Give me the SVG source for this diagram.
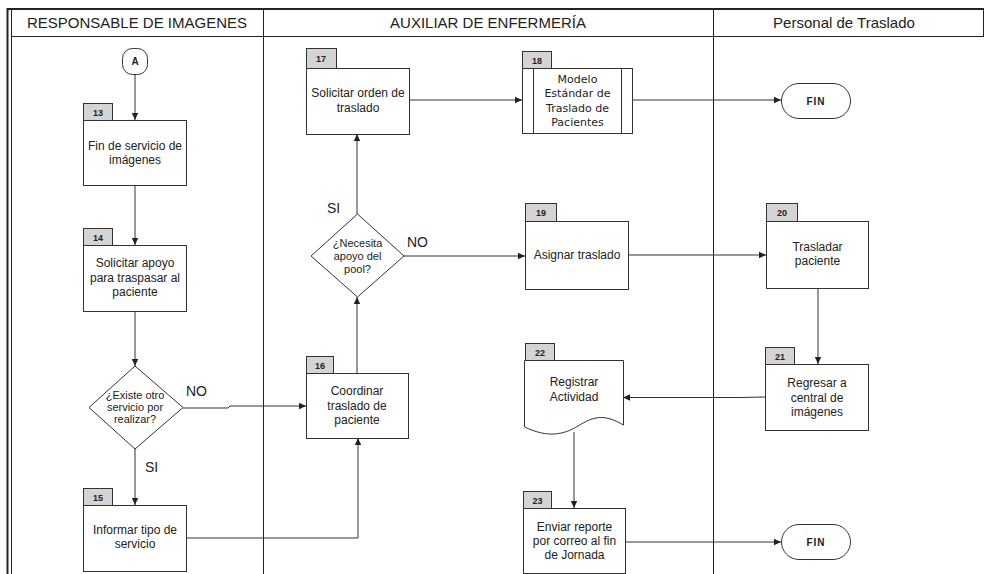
<svg xmlns="http://www.w3.org/2000/svg" width="984" height="574" viewBox="0 0 984 574">
  <style>
    .lane { fill: none; stroke: #222; stroke-width: 1; }
    .hdr { font-family: "Liberation Sans", Arial, sans-serif; font-size: 15px; fill: #222; text-anchor: middle; }
    .box { fill: #fff; stroke: #333; stroke-width: 1; }
    .tab { fill: #d4d4d4; stroke: #333; stroke-width: 1; }
    .num { font-family: "Liberation Sans", Arial, sans-serif; font-size: 9px; font-weight: bold; fill: #222; text-anchor: middle; }
    .lbl { font-family: "Liberation Sans", Arial, sans-serif; font-size: 12px; fill: #222; text-anchor: middle; }
    .dlbl { font-family: "Liberation Sans", Arial, sans-serif; font-size: 11px; fill: #222; text-anchor: middle; }
    .vlbl { font-family: "DejaVu Sans", Verdana, sans-serif; font-size: 11px; fill: #222; text-anchor: middle; }
    .fin { font-family: "Liberation Sans", Arial, sans-serif; font-size: 10px; font-weight: bold; fill: #222; text-anchor: middle; letter-spacing: 1px; }
    .cond { font-family: "Liberation Sans", Arial, sans-serif; font-size: 14px; fill: #222; }
    .edge { fill: none; stroke: #333; stroke-width: 1; marker-end: url(#arrow); }
    .plain { fill: none; stroke: #333; stroke-width: 1; }
  </style>
  <defs>
    <marker id="arrow" markerWidth="8" markerHeight="8" refX="7" refY="4" orient="auto" markerUnits="userSpaceOnUse">
      <path d="M0,0.8 L7,4 L0,7.2 Z" fill="#222"/>
    </marker>
  </defs>

  <rect width="984" height="574" fill="#fff"/>

  <!-- swimlane frame -->
  <g id="lanes">
    <line x1="7" y1="9" x2="984" y2="9" stroke="#222" stroke-width="2"/>
    <line x1="7.5" y1="8" x2="7.5" y2="574" stroke="#222" stroke-width="2"/>
    <line x1="11.5" y1="10" x2="11.5" y2="574" class="lane"/>
    <line x1="11" y1="36.5" x2="984" y2="36.5" class="lane"/>
    <line x1="983.5" y1="9" x2="983.5" y2="36" class="lane"/>
    <line x1="263.5" y1="10" x2="263.5" y2="574" class="lane"/>
    <line x1="713.5" y1="10" x2="713.5" y2="574" class="lane"/>
    <text class="hdr" x="137" y="28">RESPONSABLE DE IMAGENES</text>
    <text class="hdr" x="488" y="28">AUXILIAR DE ENFERMERÍA</text>
    <text class="hdr" x="844" y="28">Personal de Traslado</text>
  </g>

  <!-- connectors -->
  <g id="connectors">
    <line class="edge" x1="135" y1="74" x2="135" y2="120"/>
    <line class="edge" x1="135" y1="185" x2="135" y2="245"/>
    <line class="edge" x1="135" y1="311" x2="135" y2="366"/>
    <polyline class="edge" points="183,408 228,408 230,406 306,406"/>
    <line class="edge" x1="135" y1="449" x2="135" y2="505"/>
    <polyline class="edge" points="186,538 358,538 358,438"/>
    <line class="edge" x1="357" y1="373" x2="357" y2="297"/>
    <line class="edge" x1="357" y1="214" x2="357" y2="134"/>
    <line class="edge" x1="404" y1="256" x2="525" y2="256"/>
    <line class="edge" x1="409" y1="100" x2="522" y2="100"/>
    <line class="edge" x1="632" y1="100" x2="781" y2="100"/>
    <line class="edge" x1="628" y1="255" x2="766" y2="255"/>
    <line class="edge" x1="818" y1="288" x2="818" y2="364"/>
    <polyline class="edge" points="765,397 740,397.5 623,397.5"/>
    <line class="edge" x1="574" y1="432" x2="574" y2="508"/>
    <line class="edge" x1="625" y1="542" x2="781" y2="542"/>
    <text class="cond" x="186" y="396">NO</text>
    <text class="cond" x="145" y="472">SI</text>
    <text class="cond" x="327" y="213">SI</text>
    <text class="cond" x="407" y="247">NO</text>
  </g>

  <!-- start connector A -->
  <g id="nodeA">
    <rect class="box" x="122.5" y="48.5" width="25" height="26" rx="10" ry="10"/>
    <text class="num" x="135" y="65" style="font-size:10px">A</text>
  </g>

  <g id="n13">
    <rect class="tab" x="83.5" y="103.5" width="29" height="17"/>
    <text class="num" x="98" y="115.5">13</text>
    <rect class="box" x="83.5" y="120.5" width="103" height="65"/>
    <text class="lbl" x="135" y="150">Fin de servicio de</text>
    <text class="lbl" x="135" y="164">imágenes</text>
  </g>

  <g id="n14">
    <rect class="tab" x="83.5" y="228.5" width="29" height="17"/>
    <text class="num" x="98" y="240.5">14</text>
    <rect class="box" x="83.5" y="245.5" width="103" height="66"/>
    <text class="lbl" x="135" y="267">Solicitar apoyo</text>
    <text class="lbl" x="135" y="282">para traspasar al</text>
    <text class="lbl" x="135" y="296">paciente</text>
  </g>

  <g id="d1">
    <polygon class="box" points="135,366 183,407.5 135,449 89,407.5"/>
    <text class="dlbl" x="135" y="399">¿Existe otro</text>
    <text class="dlbl" x="135" y="411">servicio por</text>
    <text class="dlbl" x="135" y="423">realizar?</text>
  </g>

  <g id="n15">
    <rect class="tab" x="83.5" y="488.5" width="29" height="17"/>
    <text class="num" x="98" y="500.5">15</text>
    <rect class="box" x="83.5" y="505.5" width="103" height="66"/>
    <text class="lbl" x="135" y="534">Informar tipo de</text>
    <text class="lbl" x="135" y="548">servicio</text>
  </g>

  <g id="n16">
    <rect class="tab" x="306.5" y="356.5" width="27" height="17"/>
    <text class="num" x="320" y="368.5">16</text>
    <rect class="box" x="306.5" y="373.5" width="102" height="65"/>
    <text class="lbl" x="357" y="395">Coordinar</text>
    <text class="lbl" x="357" y="410">traslado de</text>
    <text class="lbl" x="357" y="424">paciente</text>
  </g>

  <g id="d2">
    <polygon class="box" points="357.5,214 404,256 357.5,297 311,256"/>
    <text class="dlbl" x="357.5" y="247">¿Necesita</text>
    <text class="dlbl" x="357.5" y="260">apoyo del</text>
    <text class="dlbl" x="357.5" y="273">pool?</text>
  </g>

  <g id="n17">
    <rect class="tab" x="306.5" y="48.5" width="30" height="20"/>
    <text class="num" x="321" y="62">17</text>
    <rect class="box" x="306.5" y="68.5" width="103" height="66"/>
    <text class="lbl" x="358" y="97">Solicitar orden de</text>
    <text class="lbl" x="358" y="112">traslado</text>
  </g>

  <g id="n18">
    <rect class="tab" x="522.5" y="51.5" width="29" height="17"/>
    <text class="num" x="537" y="63.5">18</text>
    <rect class="box" x="522.5" y="68.5" width="110" height="65"/>
    <line class="plain" x1="533.5" y1="68.5" x2="533.5" y2="133.5"/>
    <line class="plain" x1="621.5" y1="68.5" x2="621.5" y2="133.5"/>
    <text class="vlbl" x="577.5" y="83">Modelo</text>
    <text class="vlbl" x="577.5" y="97">Estándar de</text>
    <text class="vlbl" x="577.5" y="112">Traslado de</text>
    <text class="vlbl" x="577.5" y="126">Pacientes</text>
  </g>

  <g id="fin1">
    <rect class="box" x="781.5" y="83.5" width="69" height="35" rx="17.5" ry="17.5"/>
    <text class="fin" x="816" y="104.5">FIN</text>
  </g>

  <g id="n19">
    <rect class="tab" x="525.5" y="203.5" width="31" height="18"/>
    <text class="num" x="541" y="216">19</text>
    <rect class="box" x="525.5" y="221.5" width="103" height="68"/>
    <text class="lbl" x="577" y="259">Asignar traslado</text>
  </g>

  <g id="n20">
    <rect class="tab" x="766.5" y="203.5" width="31" height="18"/>
    <text class="num" x="782" y="216">20</text>
    <rect class="box" x="766.5" y="221.5" width="102" height="67"/>
    <text class="lbl" x="817.5" y="251">Trasladar</text>
    <text class="lbl" x="817.5" y="265">paciente</text>
  </g>

  <g id="n21">
    <rect class="tab" x="765.5" y="347.5" width="29" height="17"/>
    <text class="num" x="780" y="359.5">21</text>
    <rect class="box" x="765.5" y="364.5" width="103" height="66"/>
    <text class="lbl" x="817" y="387">Regresar a</text>
    <text class="lbl" x="817" y="402">central de</text>
    <text class="lbl" x="817" y="416">imágenes</text>
  </g>

  <g id="n22">
    <rect class="tab" x="525.5" y="343.5" width="29" height="17"/>
    <text class="num" x="540" y="355.5">22</text>
    <path class="box" d="M524.5,360.5 H623.5 V425 C603,413 593,417 578,426 C563,435 548,438 524.5,427 Z"/>
    <text class="lbl" x="574" y="386">Registrar</text>
    <text class="lbl" x="574" y="401">Actividad</text>
  </g>

  <g id="n23">
    <rect class="tab" x="523.5" y="491.5" width="28" height="17"/>
    <text class="num" x="537.5" y="503.5">23</text>
    <rect class="box" x="523.5" y="508.5" width="102" height="65"/>
    <text class="lbl" x="574.5" y="531">Enviar reporte</text>
    <text class="lbl" x="574.5" y="545">por correo al fin</text>
    <text class="lbl" x="574.5" y="559">de Jornada</text>
  </g>

  <g id="fin2">
    <rect class="box" x="781.5" y="524.5" width="69" height="35" rx="17.5" ry="17.5"/>
    <text class="fin" x="816" y="545.5">FIN</text>
  </g>
</svg>
